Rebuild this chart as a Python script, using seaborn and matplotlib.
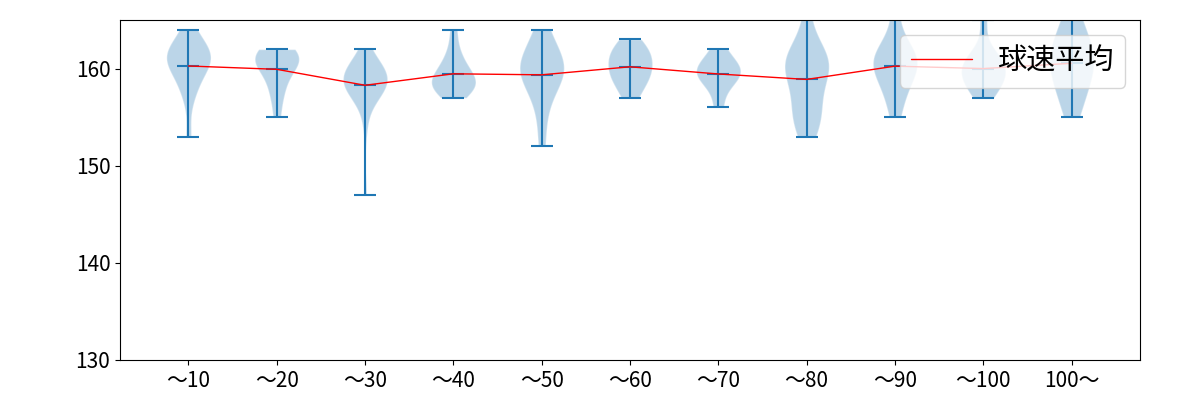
import numpy as np
import pandas as pd
import matplotlib
matplotlib.use("Agg")
import matplotlib.pyplot as plt
import seaborn as sns

categories = ["〜10", "〜20", "〜30", "〜40", "〜50", "〜60", "〜70", "〜80", "〜90", "〜100", "100〜"]

speeds_10 = [153, 157, 158, 159, 160, 160, 161, 161, 161, 161, 162, 162, 162, 163, 164]
speeds_20 = [155, 157, 158, 159, 160, 160, 161, 161, 161, 161, 162, 162, 162]
speeds_30 = [147, 154, 156, 157, 157, 158, 158, 158, 158, 158, 158, 159, 159, 159, 159, 159,
             160, 160, 160, 160, 160, 161, 161, 162, 159]
speeds_40 = [157, 158, 158, 158, 158, 159, 159, 159, 160, 160, 161, 162, 164]
speeds_50 = [152, 155, 157, 158, 159, 159, 160, 160, 160, 161, 161, 162, 163, 164]
speeds_60 = [157, 158, 159, 159, 160, 160, 161, 161, 162, 162, 163]
speeds_70 = [156, 158, 159, 159, 160, 160, 160, 161, 162]
speeds_80 = [153, 154, 155, 155, 156, 157, 158, 159, 160, 160, 160, 161, 161, 161, 162, 163, 166]
speeds_90 = [155, 157, 158, 159, 160, 160, 161, 161, 161, 162, 163, 166]
speeds_100 = [157, 158, 158, 159, 159, 160, 160, 160, 161, 161, 162, 165]
speeds_over = [155, 157, 158, 159, 160, 161, 161, 162, 163, 164, 166]

groups = [speeds_10, speeds_20, speeds_30, speeds_40, speeds_50, speeds_60,
          speeds_70, speeds_80, speeds_90, speeds_100, speeds_over]

legend_label = "球速平均"

sns.set_style("ticks")
plt.rcParams["font.family"] = ["Noto Sans CJK JP", "DejaVu Sans"]
plt.rcParams["axes.edgecolor"] = "black"
plt.rcParams["xtick.color"] = "black"
plt.rcParams["ytick.color"] = "black"
plt.rcParams["text.color"] = "black"
plt.rcParams["axes.labelcolor"] = "black"

fig, ax = plt.subplots(figsize=(12, 4), dpi=100)
fig.subplots_adjust(left=0.1, right=0.95, top=0.95, bottom=0.1)

positions = list(range(1, len(categories) + 1))
ax.violinplot(groups, positions=positions, showmeans=True, showextrema=True)

mean_df = pd.DataFrame({"pos": positions, "mean": [np.mean(g) for g in groups]})
sns.lineplot(data=mean_df, x="pos", y="mean", color="red", linewidth=1,
             label=legend_label, ax=ax)

ax.set_xticks(positions)
ax.set_xticklabels(categories, fontsize=15)
ax.tick_params(axis="y", labelsize=15)
ax.set_ylim(130, 165)
ax.set_yticks([130, 140, 150, 160])
ax.set_xlabel("")
ax.set_ylabel("")
for s in ax.spines.values():
    s.set_visible(True)
    s.set_color("black")
ax.legend(loc="upper right", fontsize=21, handlelength=2.1, handletextpad=0.85)

fig.savefig("out.png", dpi=100)
